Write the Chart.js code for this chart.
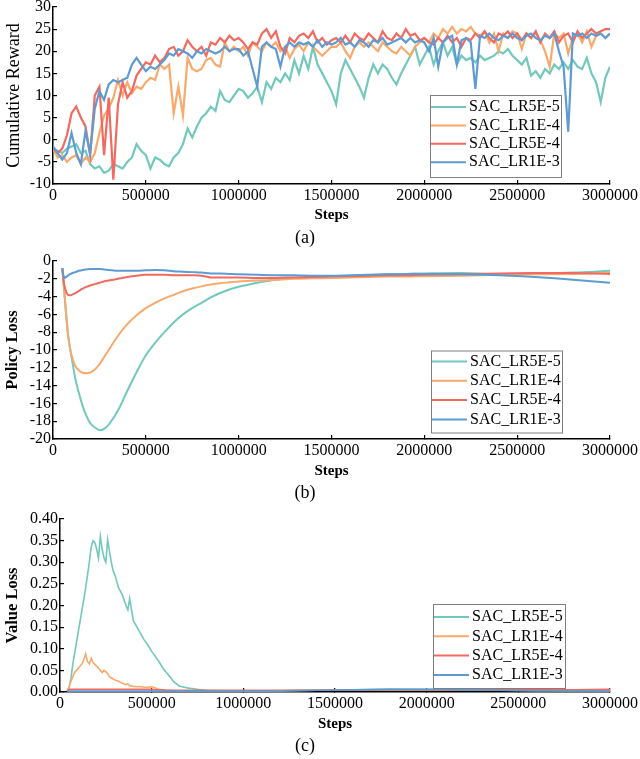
<!DOCTYPE html>
<html>
<head>
<meta charset="utf-8">
<title>SAC learning rate comparison</title>
<script src="https://cdn.jsdelivr.net/npm/chart.js@4.4.1/dist/chart.umd.min.js"></script>
<style>
  html, body { margin: 0; padding: 0; background: #fff; }
  body { width: 640px; height: 759px; position: relative; overflow: hidden; font-family: "Liberation Serif", serif; }
  .panel { position: absolute; left: 0; width: 640px; }
  #panelA { top: 0; height: 252px; }
  #panelB { top: 252px; height: 252px; }
  #panelC { top: 504px; height: 255px; }
</style>
</head>
<body>
<div class="panel" id="panelA"><canvas id="rewardChart"></canvas></div>
<div class="panel" id="panelB"><canvas id="policyChart"></canvas></div>
<div class="panel" id="panelC"><canvas id="valueChart"></canvas></div>

<script>
// series names and colours
const seriesNames = ['SAC_LR5E-5', 'SAC_LR1E-4', 'SAC_LR5E-4', 'SAC_LR1E-3'];
const seriesColors = ['#72c8bd', '#f8a96c', '#f26a5f', '#5e9bd2'];

const xTicks = [0, 500000, 1000000, 1500000, 2000000, 2500000, 3000000];
const rewardTicks = [-10, -5, 0, 5, 10, 15, 20, 25, 30];
const policyTicks = [-20, -18, -16, -14, -12, -10, -8, -6, -4, -2, 0];
const valueTicks = [0, 0.05, 0.10, 0.15, 0.20, 0.25, 0.30, 0.35, 0.40];

// (a) cumulative reward, one value every 25000 steps
const stepsA = [
  0, 25000, 50000, 75000, 100000, 125000, 150000, 175000, 200000, 225000,
  250000, 275000, 300000, 325000, 350000, 375000, 400000, 425000, 450000, 475000,
  500000, 525000, 550000, 575000, 600000, 625000, 650000, 675000, 700000, 725000,
  750000, 775000, 800000, 825000, 850000, 875000, 900000, 925000, 950000, 975000,
  1000000, 1025000, 1050000, 1075000, 1100000, 1125000, 1150000, 1175000, 1200000, 1225000,
  1250000, 1275000, 1300000, 1325000, 1350000, 1375000, 1400000, 1425000, 1450000, 1475000,
  1500000, 1525000, 1550000, 1575000, 1600000, 1625000, 1650000, 1675000, 1700000, 1725000,
  1750000, 1775000, 1800000, 1825000, 1850000, 1875000, 1900000, 1925000, 1950000, 1975000,
  2000000, 2025000, 2050000, 2075000, 2100000, 2125000, 2150000, 2175000, 2200000, 2225000,
  2250000, 2275000, 2300000, 2325000, 2350000, 2375000, 2400000, 2425000, 2450000, 2475000,
  2500000, 2525000, 2550000, 2575000, 2600000, 2625000, 2650000, 2675000, 2700000, 2725000,
  2750000, 2775000, 2800000, 2825000, 2850000, 2875000, 2900000, 2925000, 2950000, 2975000,
  3000000
];
const rewardLR5E5 = [
  -2, -2.5, -3, -2, -1.5, -1, -3, -2.5, -5.5, -6.5,
  -6, -7.5, -7, -5.5, -6, -6.5, -5, -4, -1, -2.5,
  -3.5, -6.5, -4, -4.5, -5.5, -6, -4, -3, -1, 2.5,
  0.5, 3, 5, 6, 7.5, 6.5, 11, 9, 8.5, 10,
  11.5, 11, 9.5, 10.5, 12, 8.5, 13, 11.5, 14, 13,
  15, 13.5, 18, 15, 19, 16, 21, 17, 15, 13,
  11, 8, 15, 18, 16, 14, 12, 9.5, 14, 17,
  15, 17, 16, 14, 12.5, 15, 17, 19, 21, 17,
  19, 21, 17, 20, 22, 19, 21, 17, 19, 18,
  18.5, 17.5, 19, 18, 18.5, 19, 20, 19.5, 20.5, 19,
  18, 17, 18.5, 14.5, 15.5, 14, 16, 15, 17, 16,
  17.5, 16, 18, 16.5, 16, 18.5, 15, 13, 8.5, 14,
  16.5
];
const rewardLR1E4 = [
  -2, -4, -3.5, -5, -4, -3.5, -5.5, -4, -5, -3,
  1.5, 5.5, 7, 9.5, 13.5, 10, 13, 10.5, 12, 11.5,
  13, 14, 13.5, 17, 16, 17, 6, 12, 5.5, 18.5,
  16, 15.5, 16, 18, 18.5, 17, 16.5, 22, 20, 21,
  20, 21, 19, 22, 21, 20, 22, 21, 22, 20,
  21, 18.5, 20.5, 21.5, 20, 22, 21, 20, 19, 20,
  21, 21, 22, 20, 18.5, 21, 22, 21, 22, 21,
  20, 22, 21, 20, 19.5, 21, 20, 19, 21, 22,
  23, 22, 24, 23, 25, 24, 25.5, 24, 25, 24.5,
  25.5, 24, 23.5, 24.5, 22, 24, 20, 24, 23, 24.5,
  24, 20.5, 24, 23, 24, 22.5, 20, 16.5, 24, 23,
  24, 19.5, 23, 24, 22, 24.5, 21, 23.5, 24, 23,
  24
];
const rewardLR5E4 = [
  -2, -3, -2, 1, 6, 7.5, 5, 3, -3.5, 10,
  12, -3.5, 9.5, -9, 8, 13, 9.5, 11, 14.5, 16,
  17.5, 17, 19, 17.5, 18.5, 20.5, 21, 19, 20, 22.5,
  21, 20, 21, 19, 22, 21.5, 23, 22, 23.5, 22.5,
  23, 22, 20.5, 22, 21.5, 24, 25, 23, 24.5, 21,
  19.5, 23, 22, 23.5, 24, 23, 24.5, 22, 23, 21.5,
  22.5, 23, 22, 23.5, 22, 24, 23, 22.5, 24, 23,
  22, 24.5, 23, 22.5, 24, 23, 25, 23.5, 24, 22.5,
  23, 22, 21.5, 23, 22, 23.5, 22, 23, 21, 23,
  22.5, 24, 23, 24.5, 23, 22, 24, 23.5, 24.5, 23,
  24, 22.5, 24, 23, 24.5, 22, 24, 23, 24.5, 22,
  23.5, 24, 22, 24.5, 23, 24, 25, 24, 24.5, 25,
  25
];
const rewardLR1E3 = [
  -1.5, -3, -4.5, -3, 1.5, -3, -5.5, 2, -3, 7,
  11, 9, 12.5, 13.5, 13, 13.5, 14, 17, 18.5, 17,
  15.5, 16.5, 16, 17, 18, 19.5, 19, 20.5, 20, 19.5,
  18.5, 20, 19.5, 20.5, 20, 19.5, 20, 21, 20, 20.5,
  20.5, 19, 20, 16, 12, 21, 22, 21, 20.5, 16.5,
  21, 22, 21, 22, 21.5, 22, 21, 22.5, 21, 22,
  21.5, 22, 23, 21.5, 22, 21, 22.5, 22, 21, 22.5,
  22, 23, 21.5, 22, 22.5, 23, 22, 23, 22, 22.5,
  22, 20, 23, 16.5, 22, 23, 23.5, 17, 22.5, 23,
  22, 11.5, 23.5, 23, 24, 23, 22.5, 23.5, 23, 24,
  23, 22.5, 23.5, 24, 23, 22.5, 23.5, 23, 24, 20,
  16.5, 1.8, 24, 23.5, 24, 23, 24, 23.5, 24, 23,
  24
];

// (b) policy loss
const stepsB = [
  50000, 60000, 70000, 80000, 90000, 100000, 120000, 140000, 160000, 180000,
  200000, 225000, 250000, 275000, 300000, 350000, 400000, 450000, 500000, 550000,
  600000, 650000, 700000, 750000, 800000, 850000, 900000, 950000, 1000000, 1100000,
  1200000, 1300000, 1400000, 1500000, 1600000, 1700000, 1800000, 1900000, 2000000, 2200000,
  2400000, 2600000, 2800000, 3000000
];
const policyLR5E5 = [
  -0.8, -3.2, -5.8, -8.0, -9.6, -10.8, -13.2, -14.9, -16.3, -17.4,
  -18.2, -18.7, -19.0, -18.85, -18.4, -16.8, -14.6, -12.5, -10.6, -9.2,
  -8.0, -6.9, -6.0, -5.3, -4.7, -4.1, -3.6, -3.2, -2.9, -2.45,
  -2.1, -1.9, -1.8, -1.75, -1.7, -1.6, -1.5, -1.45, -1.4, -1.35,
  -1.45, -1.4, -1.3, -1.1
];
const policyLR1E4 = [
  -0.8, -3.2, -5.8, -8.2, -9.6, -10.6, -11.8, -12.3, -12.55, -12.6,
  -12.55, -12.2, -11.6, -10.8, -10.0, -8.4, -7.1, -6.1, -5.3, -4.7,
  -4.2, -3.8, -3.4, -3.1, -2.85, -2.65, -2.5, -2.4, -2.3, -2.2,
  -2.1, -2.0, -1.95, -1.9, -1.85, -1.8, -1.75, -1.75, -1.7, -1.65,
  -1.55, -1.5, -1.45, -1.35
];
const policyLR5E4 = [
  -0.8, -2.6, -3.4, -3.8, -3.85, -3.8, -3.6, -3.35, -3.1, -2.9,
  -2.75, -2.6, -2.45, -2.3, -2.2, -2.0, -1.8, -1.65, -1.55, -1.55,
  -1.55, -1.6, -1.6, -1.6, -1.65, -1.85, -1.85, -1.85, -1.85, -1.9,
  -1.9, -1.85, -1.8, -1.75, -1.7, -1.65, -1.6, -1.6, -1.55, -1.5,
  -1.4, -1.35, -1.35, -1.45
];
const policyLR1E3 = [
  -0.8, -1.9, -1.8, -1.65, -1.5, -1.4, -1.25, -1.1, -1.0, -0.95,
  -0.9, -0.9, -0.9, -0.95, -1.0, -1.1, -1.1, -1.1, -1.05, -1.0,
  -1.05, -1.15, -1.2, -1.25, -1.3, -1.4, -1.4, -1.45, -1.5, -1.55,
  -1.6, -1.6, -1.65, -1.65, -1.6, -1.55, -1.5, -1.45, -1.45, -1.5,
  -1.6, -1.8, -2.1, -2.45
];

// (c) value loss
const stepsC = [
  40000, 50000, 60000, 70000, 80000, 90000, 100000, 110000, 120000, 130000,
  140000, 150000, 160000, 170000, 180000, 190000, 200000, 210000, 220000, 230000,
  240000, 250000, 260000, 270000, 280000, 290000, 300000, 320000, 340000, 360000,
  370000, 380000, 400000, 420000, 440000, 460000, 480000, 500000, 520000, 540000,
  560000, 580000, 600000, 620000, 650000, 700000, 750000, 800000, 900000, 1000000,
  1200000, 1400000, 1600000, 1800000, 2000000, 2200000, 2400000, 2600000, 2800000, 3000000
];
const valueLR5E5 = [
  0.002, 0.012, 0.032, 0.065, 0.09, 0.115, 0.14, 0.165, 0.19, 0.215,
  0.24, 0.27, 0.30, 0.335, 0.35, 0.346, 0.33, 0.31, 0.36, 0.33,
  0.31, 0.30, 0.352, 0.325, 0.30, 0.28, 0.27, 0.24, 0.225, 0.2,
  0.19, 0.216, 0.165, 0.15, 0.135, 0.12, 0.108, 0.094, 0.082, 0.07,
  0.056, 0.045, 0.035, 0.024, 0.014, 0.009, 0.006, 0.004, 0.002, 0.002,
  0.003, 0.004, 0.005, 0.007, 0.006, 0.005, 0.004, 0.004, 0.003, 0.003
];
const valueLR1E4 = [
  0.002, 0.012, 0.025, 0.035, 0.045, 0.05, 0.055, 0.06, 0.065, 0.075,
  0.088, 0.07, 0.065, 0.078, 0.068, 0.064, 0.06, 0.055, 0.05, 0.045,
  0.05, 0.047, 0.042, 0.035, 0.033, 0.03, 0.028, 0.025, 0.02, 0.017,
  0.019, 0.015, 0.013, 0.012, 0.012, 0.011, 0.011, 0.012, 0.009, 0.006,
  0.005, 0.004, 0.004, 0.003, 0.003, 0.003, 0.002, 0.002, 0.002, 0.003,
  0.003, 0.004, 0.004, 0.005, 0.005, 0.004, 0.004, 0.003, 0.003, 0.004
];
const valueLR5E4 = [
  0.002, 0.006, 0.006, 0.006, 0.006, 0.006, 0.006, 0.006, 0.006, 0.006,
  0.006, 0.006, 0.006, 0.006, 0.006, 0.006, 0.006, 0.006, 0.006, 0.006,
  0.006, 0.006, 0.006, 0.006, 0.006, 0.006, 0.006, 0.006, 0.006, 0.006,
  0.006, 0.006, 0.006, 0.006, 0.006, 0.006, 0.006, 0.006, 0.005, 0.005,
  0.005, 0.004, 0.004, 0.004, 0.004, 0.004, 0.004, 0.004, 0.004, 0.004,
  0.004, 0.004, 0.005, 0.005, 0.005, 0.005, 0.005, 0.005, 0.005, 0.006
];
const valueLR1E3 = [
  0.002, 0.002, 0.002, 0.002, 0.002, 0.002, 0.002, 0.002, 0.002, 0.002,
  0.002, 0.002, 0.002, 0.002, 0.002, 0.002, 0.002, 0.002, 0.002, 0.002,
  0.002, 0.002, 0.002, 0.002, 0.002, 0.002, 0.002, 0.002, 0.002, 0.002,
  0.002, 0.002, 0.002, 0.002, 0.002, 0.002, 0.002, 0.002, 0.002, 0.002,
  0.002, 0.002, 0.002, 0.002, 0.002, 0.002, 0.002, 0.002, 0.002, 0.002,
  0.003, 0.004, 0.005, 0.006, 0.006, 0.005, 0.004, 0.003, 0.003, 0.002
];

const SERIF = "'Liberation Serif', serif";
Chart.defaults.font.family = SERIF;
Chart.defaults.color = '#000';

// legend drawn as a framed box inside the plot, bottom right
const boxLegend = {
  id: 'boxLegend',
  afterDatasetsDraw(chart, args, o) {
    const { ctx, chartArea } = chart;
    const x = chartArea.right - o.right - o.width;
    const y = chartArea.bottom - o.bottom - o.height;
    ctx.save();
    ctx.fillStyle = '#fff';
    ctx.fillRect(x, y, o.width, o.height);
    ctx.strokeStyle = '#808080';
    ctx.lineWidth = 1;
    ctx.strokeRect(x + 0.5, y + 0.5, o.width, o.height);
    ctx.font = o.size + 'px ' + SERIF;
    ctx.textBaseline = 'middle';
    chart.data.datasets.forEach((ds, i) => {
      const cy = y + o.first + i * o.row;
      ctx.strokeStyle = ds.borderColor;
      ctx.lineWidth = 2;
      ctx.beginPath();
      ctx.moveTo(x + 1, cy);
      ctx.lineTo(x + 1 + o.line, cy);
      ctx.stroke();
      ctx.fillStyle = '#000';
      ctx.fillText(ds.label, x + o.line + 4, cy);
    });
    ctx.restore();
  }
};

function makeDatasets(seriesList, width, tension) {
  return seriesList.map((values, i) => ({
    label: seriesNames[i],
    data: values,
    borderColor: seriesColors[i],
    borderWidth: width,
    pointRadius: 0,
    tension: tension,
    fill: false,
    order: 3 - i  // SAC_LR1E-3 on top
  }));
}

function drawPanel(id, cfg) {
  const tickFont = { family: SERIF, size: 16, lineHeight: 1 };
  new Chart(document.getElementById(id), {
    type: 'line',
    data: { labels: cfg.steps, datasets: makeDatasets(cfg.series, cfg.lineWidth, cfg.tension) },
    options: {
      responsive: true,
      maintainAspectRatio: false,
      animation: false,
      events: [],
      layout: { padding: { top: cfg.top, right: 30, left: 0, bottom: 0 } },
      scales: {
        x: {
          type: 'linear',
          min: 0,
          max: 3000000,
          afterBuildTicks: s => { s.ticks = xTicks.map(v => ({ value: v })); },
          // fixed axis band, no extra room asked for the end labels
          afterFit: s => { s.height = cfg.xHeight; s.paddingLeft = 0; s.paddingRight = 0; },
          ticks: { font: tickFont, padding: 8, maxRotation: 0, autoSkip: false, callback: v => String(v) },
          grid: { drawOnChartArea: false, drawTicks: true, tickLength: -4, color: '#000', lineWidth: 1.2 },
          border: { display: true, color: '#000', width: 1.5 },
          title: { display: true, text: 'Steps', font: { family: SERIF, size: 15, weight: 'bold' }, padding: { top: 0, bottom: cfg.stepsPad } }
        },
        y: {
          min: cfg.yTicks[0],
          max: cfg.yTicks[cfg.yTicks.length - 1],
          afterBuildTicks: s => { s.ticks = cfg.yTicks.map(v => ({ value: v })); },
          afterFit: s => { s.width = cfg.yWidth; s.paddingTop = 0; s.paddingBottom = 0; },
          ticks: { font: tickFont, padding: 6, autoSkip: false, callback: cfg.yFormat },
          grid: { drawOnChartArea: false, drawTicks: true, tickLength: -4, color: '#000', lineWidth: 1.2 },
          border: { display: true, color: '#000', width: 1.5 },
          title: { display: true, text: cfg.yTitle, font: { family: SERIF, size: cfg.yTitleSize, weight: cfg.yBold ? 'bold' : 'normal' }, padding: { top: 3, bottom: 0 } }
        }
      },
      plugins: {
        legend: { display: false },
        tooltip: { enabled: false },
        title: {
          display: true,
          position: 'bottom',
          text: cfg.label,
          font: { family: SERIF, size: 18, weight: 'normal' },
          padding: { top: 0, bottom: cfg.labelPad }
        },
        boxLegend: cfg.legend
      }
    },
    plugins: [boxLegend]
  });
}

drawPanel('rewardChart', {
  steps: stepsA,
  series: [rewardLR5E5, rewardLR1E4, rewardLR5E4, rewardLR1E3],
  lineWidth: 2.2, tension: 0,
  yTicks: rewardTicks, yFormat: v => String(v),
  yTitle: 'Cumulative Reward', yBold: false, yTitleSize: 18, yWidth: 53,
  top: 7, xHeight: 43.4, stepsPad: 3, label: '(a)', labelPad: 3,
  legend: { right: 49, bottom: 7, width: 131, height: 82, first: 12, row: 18.4, line: 35, size: 16 }
});

drawPanel('policyChart', {
  steps: stepsB,
  series: [policyLR5E5, policyLR1E4, policyLR5E4, policyLR1E3],
  lineWidth: 2, tension: 0.3,
  yTicks: policyTicks, yFormat: v => String(v),
  yTitle: 'Policy Loss', yBold: true, yTitleSize: 16.5, yWidth: 53,
  top: 9, xHeight: 43.4, stepsPad: 2.4, label: '(b)', labelPad: 0,
  legend: { right: 48, bottom: 6.5, width: 131, height: 82, first: 11, row: 19.3, line: 35, size: 16 }
});

drawPanel('valueChart', {
  steps: stepsC,
  series: [valueLR5E5, valueLR1E4, valueLR5E4, valueLR1E3],
  lineWidth: 1.6, tension: 0,
  yTicks: valueTicks, yFormat: v => v.toFixed(2),
  yTitle: 'Value Loss', yBold: true, yTitleSize: 16.5, yWidth: 60,
  top: 15, xHeight: 43.4, stepsPad: 2.4, label: '(c)', labelPad: 2,
  legend: { right: 45, bottom: 4, width: 132, height: 84, first: 13, row: 19.3, line: 35, size: 16 }
});
</script>
</body>
</html>
